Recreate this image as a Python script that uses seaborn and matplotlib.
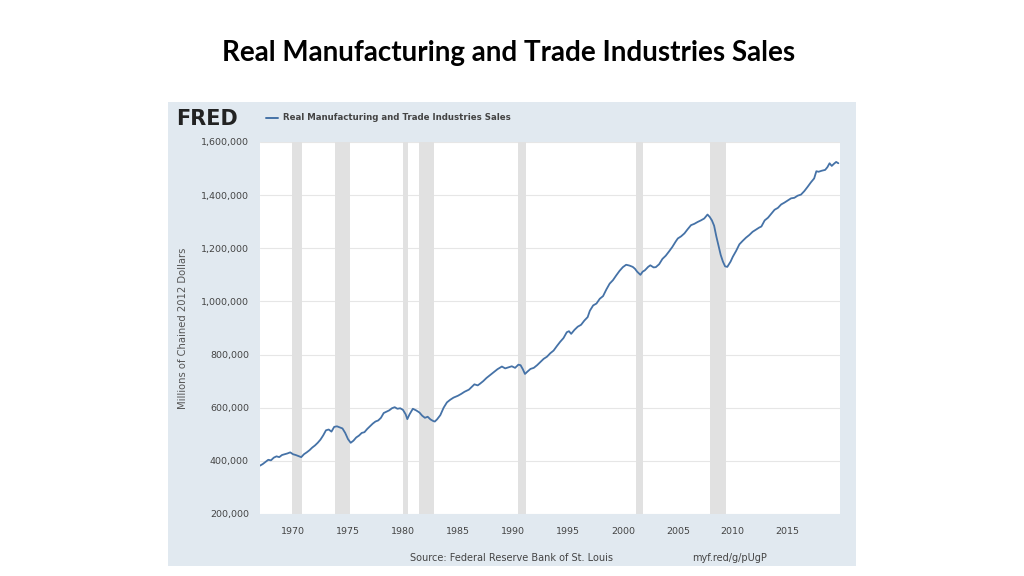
import matplotlib
matplotlib.use("Agg")
import matplotlib.pyplot as plt
import matplotlib.ticker as mticker
import seaborn as sns
import pandas as pd

# ---- data ----
years = [
    1967.0, 1967.25, 1967.5, 1967.75, 1968.0, 1968.25, 1968.5, 1968.75, 1969.0, 1969.25,
    1969.5, 1969.75, 1970.0, 1970.25, 1970.5, 1970.75, 1971.0, 1971.25, 1971.5, 1971.75,
    1972.0, 1972.25, 1972.5, 1972.75, 1973.0, 1973.25, 1973.5, 1973.75, 1974.0, 1974.25,
    1974.5, 1974.75, 1975.0, 1975.25, 1975.5, 1975.75, 1976.0, 1976.25, 1976.5, 1976.75,
    1977.0, 1977.25, 1977.5, 1977.75, 1978.0, 1978.25, 1978.5, 1978.75, 1979.0, 1979.25,
    1979.5, 1979.75, 1980.0, 1980.25, 1980.4, 1980.6, 1980.9, 1981.2, 1981.5, 1981.75,
    1982.0, 1982.25, 1982.5, 1982.75, 1982.9, 1983.1, 1983.4, 1983.7, 1984.0, 1984.3,
    1984.6, 1985.0, 1985.3, 1985.6, 1986.0, 1986.3, 1986.5, 1986.8, 1987.0, 1987.3,
    1987.6, 1988.0, 1988.3, 1988.6, 1989.0, 1989.3, 1989.6, 1989.9, 1990.2, 1990.5,
    1990.7, 1990.9, 1991.1, 1991.3, 1991.6, 1991.9, 1992.2, 1992.5, 1992.8, 1993.1,
    1993.4, 1993.7, 1994.0, 1994.3, 1994.6, 1994.9, 1995.1, 1995.3, 1995.6, 1995.9,
    1996.2, 1996.5, 1996.8, 1997.0, 1997.3, 1997.6, 1997.9, 1998.2, 1998.5, 1998.8,
    1999.1, 1999.4, 1999.7, 2000.0, 2000.3, 2000.6, 2000.9, 2001.1, 2001.3, 2001.6,
    2001.8, 2002.0, 2002.3, 2002.5, 2002.8, 2003.0, 2003.3, 2003.6, 2003.9, 2004.2,
    2004.5, 2004.8, 2005.0, 2005.3, 2005.6, 2005.9, 2006.2, 2006.5, 2006.8, 2007.1,
    2007.4, 2007.7, 2007.9, 2008.1, 2008.3, 2008.5, 2008.7, 2008.9, 2009.1, 2009.3,
    2009.5, 2009.8, 2010.0, 2010.3, 2010.6, 2010.9, 2011.2, 2011.5, 2011.8, 2012.1,
    2012.4, 2012.6, 2012.9, 2013.2, 2013.5, 2013.8, 2014.1, 2014.4, 2014.7, 2015.0,
    2015.3, 2015.6, 2015.9, 2016.2, 2016.5, 2016.8, 2017.1, 2017.4, 2017.6, 2017.8,
    2018.1, 2018.4, 2018.6, 2018.8, 2019.0, 2019.2, 2019.4, 2019.6,
]
sales_thousands = [
    382, 388, 396, 404, 402, 412, 417, 414, 422, 425,
    428, 432, 425, 422, 418, 414, 425, 432, 440, 450,
    458, 468, 480, 496, 515, 518, 510, 528, 530, 526,
    522, 505, 482, 468, 476, 488, 495, 505, 508, 520,
    530, 540, 548, 552, 562, 580, 585, 590, 598, 602,
    596, 598, 592, 575, 557, 575, 596, 590, 582, 570,
    562, 566, 556, 550, 548, 556, 572, 600, 620, 630,
    638, 645, 652, 660, 668, 680, 688, 684, 690, 700,
    712, 725, 735, 745, 755, 748, 752, 756, 750, 762,
    760, 745, 727, 735, 746, 750, 760, 772, 784, 792,
    805, 815, 832, 848, 862, 884, 888, 878, 893, 905,
    912, 928, 941, 965, 985, 992, 1010, 1020, 1045, 1067,
    1080, 1098, 1115, 1129, 1138, 1135, 1130, 1123, 1112, 1100,
    1112, 1117, 1130, 1136, 1128, 1129, 1140, 1160, 1172, 1188,
    1205, 1225, 1237, 1245, 1256, 1272, 1287, 1292, 1299, 1305,
    1312, 1327, 1318, 1305, 1285, 1245, 1210, 1175, 1150, 1132,
    1130, 1150, 1168, 1190, 1215, 1228, 1240, 1250, 1262, 1270,
    1278, 1282, 1305, 1315, 1330, 1345, 1352, 1365, 1372, 1380,
    1388, 1390, 1398, 1402, 1415, 1431, 1448, 1463, 1490, 1488,
    1492, 1495, 1505, 1520, 1510, 1518, 1525, 1520,
]
recession_start = [1969.92, 1973.83, 1980.0, 1981.5, 1990.5, 2001.17, 2007.92]
recession_end = [1970.83, 1975.17, 1980.5, 1982.83, 1991.17, 2001.83, 2009.42]
x_ticks = [1970, 1975, 1980, 1985, 1990, 1995, 2000, 2005, 2010, 2015]
y_ticks = [200000, 400000, 600000, 800000, 1000000, 1200000, 1400000, 1600000]

title = "Real Manufacturing and Trade Industries Sales"
series_name = "Real Manufacturing and Trade Industries Sales"
y_label = "Millions of Chained 2012 Dollars"

df = pd.DataFrame({"year": years, "sales": [v * 1000 for v in sales_thousands]})

# ---- figure ----
sns.set_style("white")
plt.rcParams["font.family"] = ["DejaVu Sans"]

W, H = 1024, 576
fig = plt.figure(figsize=(W / 100, H / 100), dpi=100, facecolor="white")

def fx(px):
    return px / W

def fy(py):
    return 1 - py / H

TXT = "#444444"

# FRED panel background (behind the axes)
panel_ax = fig.add_axes([fx(168), fy(566), fx(856) - fx(168), fy(102) - fy(566)], zorder=-5)
panel_ax.set_facecolor("#e1e9f0")
panel_ax.set_xticks([])
panel_ax.set_yticks([])
for sp in panel_ax.spines.values():
    sp.set_visible(False)

ax = fig.add_axes([fx(260), fy(514), fx(840) - fx(260), fy(142) - fy(514)], zorder=1)
ax.set_facecolor("white")

for s, e in zip(recession_start, recession_end):
    ax.axvspan(s, e, color="#e1e1e1", lw=0, zorder=1)

ax.set_ylim(200000, 1600000)
ax.set_xlim(1967.0, 2019.75)
ax.set_yticks(y_ticks)
ax.set_xticks(x_ticks)
ax.yaxis.set_major_formatter(mticker.FuncFormatter(lambda v, p: f"{int(v):,}"))
ax.grid(axis="y", color="#e6e6e6", lw=0.8, zorder=0)
ax.set_axisbelow(True)

sns.lineplot(data=df, x="year", y="sales", ax=ax, color="#4572a7", lw=1.3, zorder=3)

for sp in ax.spines.values():
    sp.set_visible(False)
ax.tick_params(axis="y", length=0, labelsize=6.8, labelcolor=TXT, pad=8)
ax.tick_params(axis="x", length=3, color="#c0d0e0", labelsize=6.8, labelcolor=TXT, pad=6)
ax.set_xlabel("")
ax.set_ylabel(y_label, fontsize=7.2, color="#555555", labelpad=9)

# header: FRED logo + legend
fig.text(fx(176), fy(119), "FRED", fontsize=15, fontweight="heavy", color="#222222",
         va="center", ha="left")
fig.lines.append(plt.Line2D([fx(266), fx(278)], [fy(118), fy(118)],
                            transform=fig.transFigure, color="#4572a7", lw=1.4))
fig.text(fx(283), fy(118), series_name, fontsize=6.2, fontweight="bold",
         color=TXT, va="center", ha="left")

# footer
fig.text(fx(512), fy(558), "Source: Federal Reserve Bank of St. Louis", fontsize=7,
         color=TXT, ha="center", va="center")
fig.text(fx(730), fy(558), "myf.red/g/pUgP", fontsize=7, color=TXT,
         ha="center", va="center")

# slide title
fig.text(fx(509), fy(53), title, fontsize=20, fontweight="bold", color="black",
         ha="center", va="center", family=["Lato", "DejaVu Sans"])

fig.savefig("out.png", dpi=100, facecolor="white")
